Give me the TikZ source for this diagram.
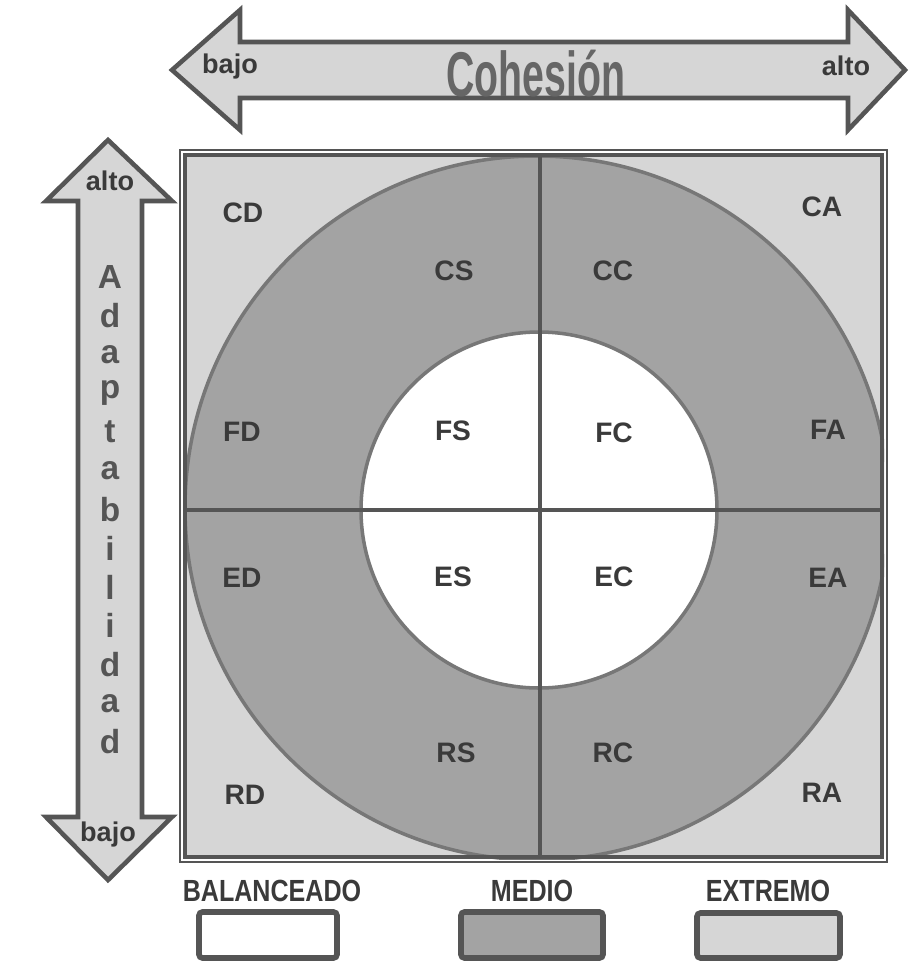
\documentclass[tikz,border=0pt]{standalone}
\usepackage{fontspec}
\setmainfont{Liberation Sans}
\usepackage{graphicx}
\definecolor{claro}{HTML}{D6D6D6}
\definecolor{medio}{HTML}{A3A3A3}
\definecolor{oscuro}{HTML}{555555}
\definecolor{letra}{HTML}{3A3A3A}
\tikzset{
  zona/.style={font=\bfseries\fontsize{8}{8}\selectfont, text=letra, inner sep=1pt},
  flecha/.style={fill=claro, draw=oscuro, line width=1.3pt, line join=miter},
  extremo/.style={font=\bfseries\fontsize{7.7}{7.7}\selectfont, text=letra, inner sep=0pt},
  letrav/.style={font=\bfseries\fontsize{9.5}{9.5}\selectfont, text=oscuro, inner sep=0pt},
  leyenda/.style={font=\bfseries\fontsize{8.7}{8.7}\selectfont, text=letra, inner sep=1pt},
  caja/.style={draw=oscuro, line width=1.6pt, rounded corners=1pt}
}
\begin{document}
\begin{tikzpicture}[x=0.01cm, y=-0.01cm]
	\useasboundingbox (0,0) rectangle (908,978);
	
	% flecha horizontal (cohesion)
	\draw[flecha] (172,70) -- (240,10) -- (240,42) -- (848,42) -- (848,10) -- (905,70)
		-- (848,130) -- (848,98) -- (240,98) -- (240,130) -- cycle;
	\node[extremo] (cbajo) at (230,66) {bajo};
	\node[extremo] (calto) at (846,66) {alto};
	\node[font=\bfseries\fontsize{18}{18}\selectfont, text=oscuro!90, inner sep=0pt] (cohesion) at (536,74) {\scalebox{0.62}[1]{Cohesión}};
	
	% flecha vertical (adaptabilidad)
	\draw[flecha] (108,140) -- (172,201) -- (142,201) -- (142,817) -- (172,817) -- (108,880)
		-- (46,817) -- (78,817) -- (78,201) -- (46,201) -- cycle;
	\node[extremo] (aalto) at (110,181) {alto};
	\node[extremo] (abajo) at (108,834) {bajo};
	\foreach \l [count=\i] in {A,d,a,p,t,a,b,i,l,i,d,a,d}
		\node[letrav] (adap\i) at (110,{277+38.75*(\i-1)}) {\l};
	
	% fondo: esquinas, anillo y circulo central
	\begin{scope}
		\clip (183,153) rectangle (884,859);
		\fill[claro] (183,153) rectangle (884,859);
		\fill[medio, draw=oscuro!80, line width=1pt] (537,508) circle [radius=352];
	\end{scope}
	\fill[white, draw=oscuro!80, line width=1pt] (539,510) circle [radius=178];
	
	% ejes que dividen los cuadrantes
	\draw[oscuro, line width=1.3pt] (540,153) -- (540,859);
	\draw[oscuro, line width=1.3pt] (183,510) -- (884,510);
	
	% marco doble
	\draw[oscuro, line width=0.6pt] (180,150) rectangle (887,862);
	\draw[oscuro, line width=1.2pt] (185,155) rectangle (882,857);
	
	% etiquetas de los 16 tipos
	\node[zona] (cd) at (243,213) {CD};
	\node[zona] (cs) at (454,271) {CS};
	\node[zona] (cc) at (613,271) {CC};
	\node[zona] (ca) at (822,207) {CA};
	\node[zona] (fd) at (242,432) {FD};
	\node[zona] (fs) at (453,431) {FS};
	\node[zona] (fc) at (614,433) {FC};
	\node[zona] (fa) at (828,430) {FA};
	\node[zona] (ed) at (242,578) {ED};
	\node[zona] (es) at (453,577) {ES};
	\node[zona] (ec) at (614,577) {EC};
	\node[zona] (ea) at (828,578) {EA};
	\node[zona] (rs) at (456,753) {RS};
	\node[zona] (rc) at (613,753) {RC};
	\node[zona] (rd) at (245,795) {RD};
	\node[zona] (ra) at (822,793) {RA};
	
	% leyenda
	\node[leyenda] (lbal) at (272,891) {\scalebox{0.82}[1]{BALANCEADO}};
	\node[leyenda] (lmed) at (532,891) {\scalebox{0.82}[1]{MEDIO}};
	\node[leyenda] (lext) at (768,891) {\scalebox{0.82}[1]{EXTREMO}};
	\draw[caja, fill=white] (199,912) rectangle (337,958);
	\draw[caja, fill=medio] (461,912) rectangle (603,958);
	\draw[caja, fill=claro] (697,913) rectangle (840,958);
	
\end{tikzpicture}
\end{document}
